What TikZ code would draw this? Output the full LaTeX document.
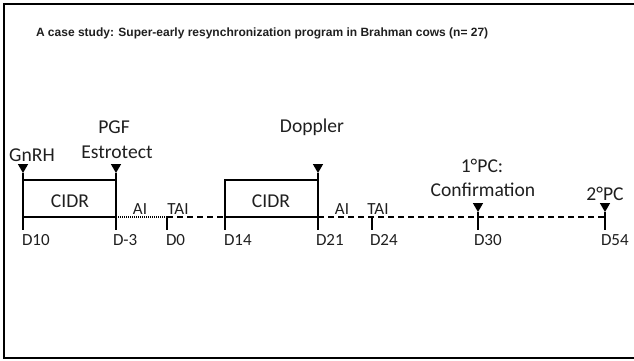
\documentclass[tikz,border=0pt]{standalone}
\usepackage{fontspec}
\setmainfont{Carlito}
\newfontfamily\titlefont{Liberation Sans}
\usetikzlibrary{shapes.geometric}
\tikzset{
  every node/.style={inner sep=0pt, outer sep=0pt, text=black!88},
  lbl/.style={font=\fontsize{19.6}{21}\selectfont},
  day/.style={font=\fontsize{17}{19}\selectfont, anchor=west},
  small/.style={font=\fontsize{17}{19}\selectfont},
  cidr/.style={draw, line width=1.5pt, minimum height=37pt},
  tri/.style={isosceles triangle, isosceles triangle apex angle=60, shape border rotate=270,
              fill=black, draw=none, minimum width=10pt, minimum height=9pt, inner sep=0pt},
  stemline/.style={line width=1.4pt},
  tickline/.style={line width=1.4pt},
  dashline/.style={line width=1.4pt, dash pattern=on 6pt off 4pt},
  fineline/.style={line width=1.4pt, dash pattern=on 1pt off 1pt},
}
\begin{document}
\begin{tikzpicture}[x=1pt, y=-1pt]
\useasboundingbox (0,0) rectangle (634,360);
% outer frame (right side runs off the page)
\draw[line width=2.6pt] (642,4) -- (4,4) -- (4,358) -- (642,358);

% title
\node[font=\titlefont\bfseries\fontsize{12}{14}\selectfont, anchor=west] (title) at (36,33)
  {A case study: Super-early resynchronization program in Brahman cows (n= 27)};

% CIDR boxes
\node[cidr, minimum width=93pt, anchor=north west] (box1) at (23,180) {};
\node[lbl] (cidr1) at (70,201) {CIDR};
\node[cidr, minimum width=93pt, anchor=north west] (box2) at (225,180) {};
\node[lbl] (cidr2) at (271,201) {CIDR};

% day positions on the time line
\coordinate (t0) at (167,217);
\coordinate (t24) at (372,217);
\coordinate (t30) at (478,217);
\coordinate (t54) at (605,217);

% time line
\draw[fineline] (box1.south east) -- (t0);
\draw[dashline] (t0) -- (box2.south west);
\draw[dashline] (box2.south east) -- (t54);

% ticks
\coordinate (b10) at (23,230);
\coordinate (b3) at (116,230);
\coordinate (b0) at (167,230);
\coordinate (b14) at (225,230);
\coordinate (b21) at (318,230);
\coordinate (b24) at (372,230);
\coordinate (b30) at (478,230);
\coordinate (b54) at (605,230);
\draw[tickline] (box1.south west) -- (b10);
\draw[tickline] (box1.south east) -- (b3);
\draw[tickline] (t0) -- (b0);
\draw[tickline] (box2.south west) -- (b14);
\draw[tickline] (box2.south east) -- (b21);
\draw[tickline] (t24) -- (b24);
\draw[tickline] (t30) -- (b30);
\draw[tickline] (t54) -- (b54);

% day labels
\node[day] (d10) at (22,240) {D10};
\node[day] (dm3) at (113,240) {D-3};
\node[day] (d0) at (166,240) {D0};
\node[day] (d14) at (224,240) {D14};
\node[day] (d21) at (316,240) {D21};
\node[day] (d24) at (370,240) {D24};
\node[day] (d30) at (474,240) {D30};
\node[day] (d54) at (601,240) {D54};

% insemination labels
\node[small] (ai1) at (140,209) {AI};
\node[small] (tai1) at (178,209) {TAI};
\node[small] (ai2) at (342,209) {AI};
\node[small] (tai2) at (378,209) {TAI};

% treatments and checks
\node[lbl] (gnrh) at (32,155) {GnRH};
\node[lbl] (pgf) at (114,127) {PGF};
\node[lbl] (estro) at (117,152) {Estrotect};
\node[lbl] (dopp) at (312,127) {Doppler};
\node[lbl] (pc1) at (482,166) {1°PC:};
\node[lbl] (conf) at (483,190) {Confirmation};
\node[lbl] (pc2) at (605,194) {2°PC};

% markers
\node[tri, anchor=north] (m1) at (23,164) {};
\node[tri, anchor=north] (m2) at (116,164) {};
\node[tri, anchor=north] (m3) at (318,164) {};
\node[tri, anchor=north] (m4) at (478,203) {};
\node[tri, anchor=north] (m5) at (605,203) {};
\draw[stemline] (m1.apex) -- (box1.north west);
\draw[stemline] (m2.apex) -- (box1.north east);
\draw[stemline] (m3.apex) -- (box2.north east);
\draw[stemline] (m4.apex) -- (t30);
\draw[stemline] (m5.apex) -- (t54);
\end{tikzpicture}
\end{document}
